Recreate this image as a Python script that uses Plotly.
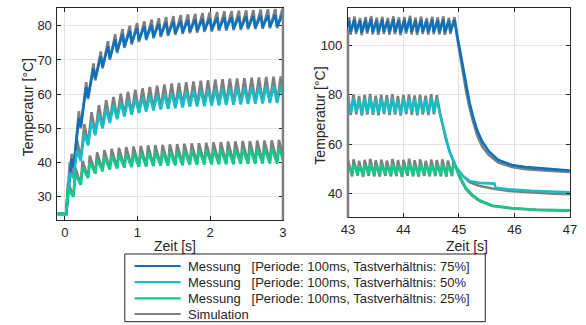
import plotly.graph_objects as go

PERIOD = 0.1
AMBIENT = 25.0

# ---------------- Left panel (heating from 25 °C) ----------------
left_pre_t = [-0.1]
left_t0 = 0.02

# 75 % duty cycle
m75_peaks = [41, 53, 62, 67.5, 71, 74, 76, 77.5, 78.5, 79.3, 79.8, 80.2, 80.6, 80.9, 81.2,
             81.4, 81.6, 81.8, 82, 82.1, 82.3, 82.4, 82.5, 82.6, 82.7, 82.8, 82.9, 83, 83.1, 83.2]
m75_troughs = [38.5, 50.5, 59, 64.5, 68, 70.5, 72.5, 74, 75, 75.8, 76.3, 76.8, 77.2, 77.5, 77.8,
               78.1, 78.3, 78.5, 78.7, 78.8, 79, 79.1, 79.2, 79.3, 79.4, 79.5, 79.6, 79.7, 79.8, 79.9]
s75_peaks = [42.5, 55, 63.5, 69, 72.5, 75.5, 77.5, 79, 80, 80.8, 81.3, 81.8, 82.2, 82.5, 82.8,
             83.1, 83.3, 83.5, 83.7, 83.9, 84.0, 84.2, 84.3, 84.4, 84.5, 84.6, 84.7, 84.8, 84.9, 85.0]
s75_troughs = [38, 50, 58.5, 64, 67.5, 70, 72, 73.5, 74.5, 75.3, 75.8, 76.3, 76.7, 77, 77.3,
               77.6, 77.8, 78, 78.2, 78.3, 78.5, 78.6, 78.7, 78.8, 78.9, 79, 79.1, 79.2, 79.3, 79.4]

# 50 % duty cycle
m50_peaks = [37, 43.5, 48.5, 52, 54.2, 55.7, 56.8, 57.6, 58.2, 58.7, 59.1, 59.5, 59.8, 60.1, 60.4,
             60.6, 60.8, 61.0, 61.2, 61.4, 61.5, 61.7, 61.8, 61.9, 62.0, 62.1, 62.2, 62.3, 62.4, 62.5]
m50_troughs = [35.5, 40.5, 45, 48, 50, 51.6, 52.7, 53.5, 54.0, 54.5, 54.9, 55.2, 55.5, 55.7, 55.9,
               56.1, 56.3, 56.4, 56.5, 56.6, 56.7, 56.8, 56.9, 57.0, 57.1, 57.2, 57.3, 57.4, 57.4, 57.5]
s50_peaks = [40, 46.5, 51.2, 54.7, 56.8, 58.2, 59.2, 60.1, 60.7, 61.3, 61.7, 62.1, 62.5, 62.8, 63.1,
             63.3, 63.5, 63.7, 63.9, 64.1, 64.3, 64.4, 64.5, 64.6, 64.7, 64.8, 64.9, 65.0, 65.1, 65.2]
s50_troughs = [36, 41, 45.5, 48.5, 50.5, 52, 53, 53.8, 54.3, 54.8, 55.2, 55.5, 55.8, 56.0, 56.2,
               56.4, 56.6, 56.7, 56.8, 56.9, 57.0, 57.1, 57.2, 57.3, 57.4, 57.5, 57.6, 57.7, 57.8, 57.9]

# 25 % duty cycle
m25_peaks = [32.5, 36.5, 38.5, 40, 41, 41.6, 42.0, 42.3, 42.5, 42.7, 42.9, 43.0, 43.1, 43.2, 43.3,
             43.4, 43.5, 43.6, 43.7, 43.8, 43.8, 43.9, 43.9, 44.0, 44.0, 44.1, 44.1, 44.2, 44.2, 44.3]
m25_troughs = [30, 33.5, 35.5, 36.8, 37.5, 38, 38.3, 38.5, 38.7, 38.8, 38.9, 39.0, 39.1, 39.1, 39.2,
               39.2, 39.3, 39.3, 39.4, 39.4, 39.5, 39.5, 39.5, 39.6, 39.6, 39.6, 39.7, 39.7, 39.7, 39.7]
s25_peaks = [34, 38.5, 40.5, 42, 43, 43.6, 44, 44.3, 44.5, 44.7, 44.9, 45.0, 45.1, 45.2, 45.3,
             45.4, 45.5, 45.6, 45.7, 45.8, 45.9, 46.0, 46.1, 46.2, 46.3, 46.3, 46.4, 46.4, 46.5, 46.6]
s25_troughs = [30, 33.5, 35.5, 36.8, 37.5, 38, 38.3, 38.5, 38.7, 38.8, 38.9, 39.0, 39.1, 39.2, 39.3,
               39.4, 39.5, 39.6, 39.7, 39.7, 39.8, 39.8, 39.9, 39.9, 40.0, 40.0, 40.1, 40.1, 40.2, 40.2]

# ---------------- Right panel (cool-down) ----------------
r75_t0, r50_t0, r25_t0 = 42.945, 42.95, 42.975

rm75_start = 105.5
rm75_peaks = [110.3, 110.6, 110.1, 110.5, 110.8, 110.2, 110.6, 110.2, 110.7, 110.4,
              110.5, 110.9, 110.3, 110.6, 110.1, 110.6, 110.4, 110.7, 110.2, 110.5]
rm75_troughs = [105.5, 105.8, 105.3, 105.8, 105.6, 105.4, 105.7, 105.5, 105.6, 105.3,
                105.8, 105.6, 105.4, 105.7, 105.5, 105.6, 105.5, 105.4, 105.7]
rm75_decay_t = [44.97, 45.01, 45.07, 45.13, 45.19, 45.25, 45.33, 45.42, 45.54, 45.71, 45.95, 46.2, 46.6, 47.0]
rm75_decay_T = [104, 99, 91, 83.5, 77, 71.5, 65.5, 61, 57, 53.5, 51.5, 50.6, 50, 49.2]

rs75_start = 104.5
rs75_peaks = [111.5, 111.8, 111.2, 111.6, 112.0, 111.4, 111.7, 111.3, 111.9, 111.5,
              111.6, 112.1, 111.4, 111.8, 111.2, 111.7, 111.5, 111.9, 111.3, 111.6]
rs75_troughs = [104.5, 104.8, 104.3, 104.9, 104.6, 104.4, 104.8, 104.5, 104.7, 104.3,
                104.9, 104.6, 104.4, 104.8, 104.5, 104.7, 104.6, 104.4, 104.8]
rs75_decay_t = [44.97, 45.01, 45.07, 45.13, 45.19, 45.25, 45.33, 45.42, 45.54, 45.71, 45.95, 46.2, 46.6, 47.0]
rs75_decay_T = [103, 97.5, 89, 81.5, 75, 69.5, 63.5, 59, 55.5, 52.5, 50.7, 49.8, 49.2, 48.6]

rm50_start = 72.6
rm50_peaks = [78.2, 78.6, 78.0, 78.4, 78.8, 78.1, 78.5, 78.3, 78.7, 78.0, 78.4, 78.6, 78.2, 78.5, 78.1, 78.7, 78.3]
rm50_troughs = [72.6, 72.9, 72.4, 72.8, 72.7, 72.5, 73.0, 72.6, 72.8, 72.4, 72.9, 72.7, 72.5, 72.8, 72.6, 72.9]
rm50_decay_t = [44.66, 44.72, 44.77, 44.83, 44.89, 44.95, 45.07, 45.19, 45.36, 45.5, 45.64, 45.66, 45.9, 46.3, 46.7, 47.0]
rm50_decay_T = [72, 66.5, 61.5, 57, 53.5, 50.5, 47, 45, 44.2, 44.0, 43.9, 42.2, 41.6, 41.0, 40.6, 40.4]

rs50_start = 71.8
rs50_peaks = [79.8, 80.2, 79.6, 80.0, 80.4, 79.7, 80.1, 79.9, 80.3, 79.6, 80.0, 80.2, 79.8, 80.1, 79.7, 80.3, 79.9]
rs50_troughs = [71.8, 72.1, 71.6, 72.0, 71.9, 71.7, 72.2, 71.8, 72.0, 71.6, 72.1, 71.9, 71.7, 72.0, 71.8, 72.1]
rs50_decay_t = [44.66, 44.72, 44.77, 44.83, 44.89, 44.95, 45.07, 45.19, 45.36, 45.6, 45.9, 46.3, 46.7, 47.0]
rs50_decay_T = [72.5, 66.5, 61.5, 57, 53.5, 50.5, 47, 44.5, 43, 41.9, 40.9, 40.2, 39.8, 39.6]

rm25_start = 47.6
rm25_peaks = [51.5, 51.8, 51.3, 51.6, 51.9, 51.4, 51.7, 51.3, 51.8, 51.5,
              51.6, 52.0, 51.4, 51.7, 51.3, 51.8, 51.5, 51.7, 51.4, 51.5]
rm25_troughs = [47.6, 47.9, 47.4, 47.8, 47.6, 47.5, 47.8, 47.6, 47.7, 47.4,
                47.8, 47.6, 47.5, 47.8, 47.6, 47.7, 47.6, 47.5, 47.7]
rm25_decay_t = [44.95, 45.01, 45.07, 45.13, 45.24, 45.36, 45.6, 45.95, 46.4, 47.0]
rm25_decay_T = [50.5, 47, 44.5, 42, 39.4, 37.3, 35, 34, 33.3, 33]

rs25_start = 46.8
rs25_peaks = [53.5, 53.8, 53.2, 53.6, 54.0, 53.4, 53.7, 53.3, 53.9, 53.5,
              53.6, 54.0, 53.4, 53.8, 53.2, 53.7, 53.5, 53.8, 53.3, 53.5]
rs25_troughs = [46.8, 47.1, 46.6, 47.0, 46.8, 46.7, 47.0, 46.8, 46.9, 46.6,
                47.0, 46.8, 46.7, 47.0, 46.8, 46.9, 46.8, 46.7, 46.9]
rs25_decay_t = [44.95, 45.01, 45.07, 45.13, 45.24, 45.36, 45.6, 45.95, 46.4, 47.0]
rs25_decay_T = [50, 46.5, 44, 41.5, 39, 37, 34.8, 33.8, 33.2, 32.9]

legend_labels = [
    "Messung\u00a0\u00a0\u00a0[Periode: 100ms, Tastverhältnis: 75%]",
    "Messung\u00a0\u00a0\u00a0[Periode: 100ms, Tastverhältnis: 50%",
    "Messung\u00a0\u00a0\u00a0[Periode: 100ms, Tastverhältnis: 25%]",
    "Simulation",
]

C_BLUE = "#0B72BB"
C_CYAN = "#17BEC6"
C_GREEN = "#14C98C"
C_GRAY = "#7F7F7F"
TXT = "#262626"
FONT = "Liberation Sans, Arial, Helvetica, sans-serif"
legend_colors = [C_BLUE, C_CYAN, C_GREEN, C_GRAY]


def sawtooth(t0, duty, start, peaks, troughs, pre_t=None, extra_t=None, extra_T=None):
    t, y = [], []
    if pre_t is not None:
        t += list(pre_t)
        y += [start] * len(pre_t)
    t.append(t0)
    y.append(start)
    for k, p in enumerate(peaks):
        ts = t0 + k * PERIOD
        t.append(ts + duty * PERIOD)
        y.append(p)
        if k < len(troughs):
            t.append(ts + PERIOD)
            y.append(troughs[k])
    if extra_t is not None:
        t += list(extra_t)
        y += list(extra_T)
    return t, y


fig = go.Figure()
LW = 2.6


def add(t, y, color, xa, ya, name=""):
    fig.add_trace(go.Scatter(
        x=t, y=y, mode="lines", line=dict(color=color, width=LW),
        xaxis=xa, yaxis=ya, name=name, showlegend=False, hoverinfo="skip"))


# simulations (under)
for duty, pk, tr in [(0.75, s75_peaks, s75_troughs), (0.5, s50_peaks, s50_troughs), (0.25, s25_peaks, s25_troughs)]:
    t, y = sawtooth(left_t0, duty, AMBIENT, pk, tr, pre_t=left_pre_t)
    add(t, y, C_GRAY, "x", "y", legend_labels[3])

for t0, duty, st, pk, tr, dt, dT in [
        (r75_t0, 0.75, rs75_start, rs75_peaks, rs75_troughs, rs75_decay_t, rs75_decay_T),
        (r50_t0, 0.5, rs50_start, rs50_peaks, rs50_troughs, rs50_decay_t, rs50_decay_T),
        (r25_t0, 0.25, rs25_start, rs25_peaks, rs25_troughs, rs25_decay_t, rs25_decay_T)]:
    t, y = sawtooth(t0, duty, st, pk, tr, extra_t=dt, extra_T=dT)
    add(t, y, C_GRAY, "x2", "y2", legend_labels[3])

# measurements
for duty, pk, tr, col, lab in [
        (0.75, m75_peaks, m75_troughs, C_BLUE, legend_labels[0]),
        (0.5, m50_peaks, m50_troughs, C_CYAN, legend_labels[1]),
        (0.25, m25_peaks, m25_troughs, C_GREEN, legend_labels[2])]:
    t, y = sawtooth(left_t0, duty, AMBIENT, pk, tr, pre_t=left_pre_t)
    add(t, y, col, "x", "y", lab)

for t0, duty, st, pk, tr, dt, dT, col, lab in [
        (r75_t0, 0.75, rm75_start, rm75_peaks, rm75_troughs, rm75_decay_t, rm75_decay_T, C_BLUE, legend_labels[0]),
        (r50_t0, 0.5, rm50_start, rm50_peaks, rm50_troughs, rm50_decay_t, rm50_decay_T, C_CYAN, legend_labels[1]),
        (r25_t0, 0.25, rm25_start, rm25_peaks, rm25_troughs, rm25_decay_t, rm25_decay_T, C_GREEN, legend_labels[2])]:
    t, y = sawtooth(t0, duty, st, pk, tr, extra_t=dt, extra_T=dT)
    add(t, y, col, "x2", "y2", lab)

W, H = 586, 325
axis_common = dict(
    showline=True, linecolor=TXT, linewidth=1, mirror="ticks",
    ticks="inside", ticklen=4, tickcolor=TXT, tickwidth=1,
    showgrid=True, gridcolor="#E3E3E3", gridwidth=1, zeroline=False,
    tickfont=dict(family=FONT, size=13, color=TXT),
)

fig.update_layout(
    width=W, height=H, autosize=False,
    margin=dict(l=0, r=0, t=0, b=0),
    paper_bgcolor="white", plot_bgcolor="white",
    font=dict(family=FONT, size=13, color=TXT),
    xaxis=dict(domain=[51.7 / W, 282.7 / W], range=[-0.1, 3], tickvals=[0, 1, 2, 3], anchor="y",
               ticklabelstandoff=0, **axis_common),
    yaxis=dict(domain=[1 - 220 / H, 1 - 8.3 / H], range=[23.2, 85.1], tickvals=[30, 40, 50, 60, 70, 80], anchor="x",
               ticklabelstandoff=2, **axis_common),
    xaxis2=dict(domain=[349.3 / W, 576.7 / W], range=[43, 47], tickvals=[43, 44, 45, 46, 47], anchor="y2",
                ticklabelstandoff=0, **axis_common),
    yaxis2=dict(domain=[1 - 217.3 / H, 1 - 8.3 / H], range=[30.2, 115.2], tickvals=[40, 60, 80, 100], anchor="x2",
                ticklabelstandoff=2, **axis_common),
    showlegend=False,
)

# gray edges where simulation traces run along the axes box
fig.add_shape(type="line", xref="x domain", yref="y domain", x0=1, x1=1, y0=0, y1=1,
              line=dict(color=C_GRAY, width=2.5))
fig.add_shape(type="line", xref="x2 domain", yref="y2 domain", x0=0, x1=0, y0=0, y1=0.9,
              line=dict(color=C_GRAY, width=2.5))

ann = dict(showarrow=False, font=dict(family=FONT, size=14, color=TXT), xref="paper", yref="paper")
fig.add_annotation(text="Zeit [s]", x=172 / W, y=1 - 245.5 / H, xanchor="center", yanchor="middle", **ann)
fig.add_annotation(text="Zeit [s]", x=471.5 / W, y=1 - 245.5 / H, xanchor="center", yanchor="middle", **ann)
fig.add_annotation(text="Temperatur [°C]", x=21 / W, y=1 - 106.7 / H, textangle=-90,
                   xanchor="center", yanchor="middle", **ann)
fig.add_annotation(text="Temperatur [°C]", x=320.5 / W, y=1 - 115.8 / H, textangle=-90,
                   xanchor="center", yanchor="middle", **ann)

# legend box (MATLAB-style, compact rows)
LEG_X0, LEG_X1, LEG_Y0, LEG_Y1 = 120.7, 490, 254, 321.7
LEG_ROWS = [266.0, 282.2, 298.3, 314.0]
fig.add_shape(type="rect", xref="paper", yref="paper",
              x0=LEG_X0 / W, x1=LEG_X1 / W, y0=1 - LEG_Y1 / H, y1=1 - LEG_Y0 / H,
              line=dict(color=TXT, width=1), fillcolor="white", layer="above")
for lab, col, ry in zip(legend_labels, legend_colors, LEG_ROWS):
    fig.add_shape(type="line", xref="paper", yref="paper",
                  x0=130.7 / W, x1=178 / W, y0=1 - ry / H, y1=1 - ry / H,
                  line=dict(color=col, width=2.2), layer="above")
    fig.add_annotation(text=lab, x=183.5 / W, y=1 - ry / H, xanchor="left", yanchor="middle",
                       showarrow=False, xref="paper", yref="paper",
                       font=dict(family=FONT, size=13, color=TXT))

fig.write_html("out.html", config={"displayModeBar": False},
               post_script="document.body.style.margin='0';document.body.style.padding='0';")
